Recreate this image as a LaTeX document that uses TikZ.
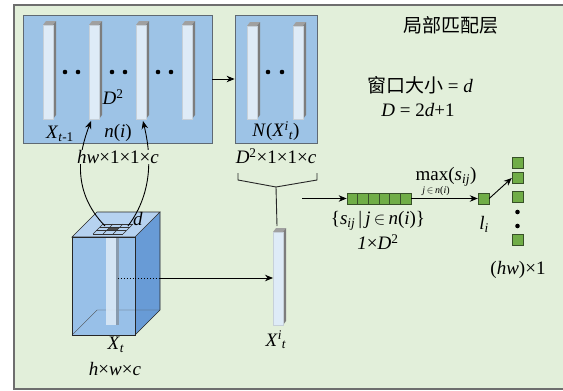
\documentclass[tikz,border=0pt]{standalone}
\usepackage{fontspec}
\setmainfont{Liberation Serif}
\newfontfamily\serifface{Liberation Serif}
\newfontfamily\cjk{Noto Sans CJK SC}
\usetikzlibrary{arrows.meta}
\definecolor{bgg}{RGB}{226,239,218}
\definecolor{framec}{RGB}{110,110,110}
\definecolor{boxb}{RGB}{157,195,230}
\definecolor{boxline}{RGB}{95,105,115}
\definecolor{barf}{RGB}{222,235,247}
\definecolor{bars}{RGB}{125,125,125}
\definecolor{bart}{RGB}{160,160,160}
\definecolor{sqg}{RGB}{112,173,71}
\definecolor{sqline}{RGB}{55,80,40}
\definecolor{cubef}{RGB}{152,192,232}
\definecolor{cuber}{RGB}{104,155,214}
\definecolor{cubet}{RGB}{182,210,240}
\newcommand\featbar[3]{%
  \fill[bart] (#1,#2) -- (#1+3,#2-4) -- (#1+13,#2-4) -- (#1+10,#2) -- cycle;
  \fill[bars] (#1+10,#2) -- (#1+13,#2-4) -- (#1+13,#3-4) -- (#1+10,#3) -- cycle;
  \fill[barf] (#1,#2) rectangle (#1+10,#3);
  \draw[barf!75!gray, line width=0.4pt] (#1,#2) rectangle (#1+10,#3);
}
\tikzset{
  lab/.style={font=\serifface\fontsize{19}{21}\selectfont, inner sep=0pt},
  smalllab/.style={font=\serifface\fontsize{10}{12}\selectfont, inner sep=0pt},
  bluebox/.style={draw=boxline, fill=boxb, line width=0.8pt, inner sep=0pt},
  sq/.style={draw=sqline, fill=sqg, line width=0.7pt, minimum width=10.7pt, minimum height=11pt, inner sep=0pt},
  conn/.style={black, line width=0.9pt},
  arr/.style={conn, -{Stealth[length=8pt,width=6.5pt]}},
  dot/.style={fill=black, circle, inner sep=0pt, minimum size=4.6pt},
}
\begin{document}
\begin{tikzpicture}[x=1pt,y=-1pt]
\useasboundingbox (0,0) rectangle (563,391);
\fill[bgg] (14,5) rectangle (566,389);
\draw[framec, line width=1.4pt] (568,5) -- (14,5) -- (14,389) -- (568,389);

% big feature box
\node[bluebox, minimum width=189pt, minimum height=128pt] (big) at (117.5,79) {};
\featbar{43}{25}{119}
\featbar{89}{25}{119}
\featbar{136}{25}{119}
\featbar{182}{25}{119}
\foreach \x in {65,78,112,125,158,171} \node[dot] at (\x,72) {};
\node[lab] (d2) at (113,97) {\textit{D}\textsuperscript{2}};
\node[lab] (xt1) at (60,134) {\textit{X}\textsubscript{\textit{t}-1}};
\node[lab] (ni) at (118,133) {\textit{n}(\textit{i})};

% small box
\node[bluebox, minimum width=82pt, minimum height=128pt] (small) at (276,79) {};
\featbar{247}{26}{119}
\featbar{293}{26}{119}
\foreach \x in {268,282} \node[dot] at (\x,72) {};
\node[lab] (nx) at (276,131) {\textit{N}(\textit{X}\textsuperscript{\textit{i}}\textsubscript{\textit{t}})};
\draw[arr] (big.east) -- (small.west);
\node[lab] (dim2) at (276,156) {\textit{D}\textsuperscript{2}×1×1×\textit{c}};

% cube
\fill[cubef] (72,237) rectangle (135,335);
\fill[cuber] (135,237) -- (160,212) -- (160,310) -- (135,335) -- cycle;
\fill[cubet] (72,237) -- (97,212) -- (160,212) -- (135,237) -- cycle;
\draw[black!70, line width=0.35pt] (72,335) -- (97,310) -- (160,310);
\fill[barf, opacity=0.85] (106,237) rectangle (116,325);
\fill[bars!60!cubef, opacity=0.9] (116,237) rectangle (119,325);
\draw[black!85, line width=0.7pt] (72,237) -- (97,212) -- (160,212) -- (135,237) -- cycle;
\draw[black!85, line width=0.7pt] (72,237) rectangle (135,335);
\draw[black!85, line width=0.7pt] (160,212) -- (160,310) -- (135,335);
% grid on top face
\fill[black!70] (106.3,230.7) -- (116.3,230.7) -- (119.7,227.3) -- (109.7,227.3) -- cycle;
\foreach \i in {0,1,2,3} \draw[black!80, line width=0.6pt] (93+10*\i,234) -- (103+10*\i,224);
\foreach \j in {0,1,2,3} \draw[black!80, line width=0.6pt] (93+3.333*\j,234-3.333*\j) -- (123+3.333*\j,234-3.333*\j);
\coordinate (gl) at (105,226);
\coordinate (gr) at (128,226);
\coordinate (b2) at (91,121);
\coordinate (b3) at (143,121);
\node[lab] (dlab) at (138,219) {\textit{d}};
\node[lab] (xt) at (116,345) {\textit{X}\textsubscript{\textit{t}}};
\node[lab] (hwc) at (115,369) {\textit{h}×\textit{w}×\textit{c}};

% curved arrows
\draw[arr] (gl) .. controls (70,190) and (80,150) .. (b2);
\draw[arr] (gr) .. controls (155,190) and (150,150) .. (b3);
\node[lab, fill=bgg, inner xsep=1pt] (hw) at (118,157) {\textit{hw}×1×1×\textit{c}};

% single vector
\featbar{273}{232}{325}
\coordinate (xtop) at (277,226);
\coordinate (xin) at (273,278);
\node[lab] (xit) at (276,340) {\textit{X}\textsuperscript{\textit{i}}\textsubscript{\textit{t}}};
\coordinate (cubein) at (118,278);
\coordinate (cubeout) at (160,278);
\draw[conn, dotted, line width=1pt] (cubein) -- (cubeout);
\draw[arr] (cubeout) -- (xin);

% brace
\coordinate (brl) at (238,173);
\coordinate (brr) at (317,173);
\coordinate (brm) at (276,187);
\draw[black!85, line width=0.9pt] (brl) -- (238,180) -- (brm) -- (317,180) -- (brr);
\draw[black!85, line width=0.9pt] (brm) -- (xtop);

% right part
\node[lab] (title) at (451,25) {\cjk 局部匹配层};
\node[lab] (win) at (420,85) {{\cjk 窗口大小} = \textit{d}};
\node[lab] (deq) at (418,110) {\textit{D} = 2\textit{d}+1};

\foreach \k in {1,...,6} \node[sq] (s\k) at (347+10.67*\k-5.33,198.5) {};
\coordinate (rowstart) at (302,198.5);
\draw[arr] (rowstart) -- (s1.west);
\node[sq] (li) at (483.5,198.5) {};
\draw[arr] (s6.east) -- (li.west);
\node[lab] (maxl) at (446,177) {max(\textit{s}\textsubscript{\textit{ij}})};
\node[smalllab] (maxs) at (436,191) {\textit{j}\,$\in$\,\textit{n}(\textit{i})};
\node[lab] (sset) at (378,221) {\{\textit{s}\textsubscript{\textit{ij}}\,|\,\textit{j}\,$\in$\,\textit{n}(\textit{i})\}};
\node[lab] (sdim) at (378,242) {\textit{1}×\textit{D}\textsuperscript{2}};
\node[lab] (lil) at (484,224) {\textit{l}\textsubscript{\textit{i}}};

\node[sq] (c1) at (517.5,162.5) {};
\node[sq] (c2) at (517.5,178) {};
\node[sq] (c3) at (517.5,197) {};
\node[dot] (cd1) at (517.5,212) {};
\node[dot] (cd2) at (517.5,226) {};
\node[sq] (c4) at (517.5,240) {};
\draw[arr] (li.east) -- (c2.west);
\node[lab] (hw1) at (518,270) {(\textit{hw})×1};
\end{tikzpicture}
\end{document}
